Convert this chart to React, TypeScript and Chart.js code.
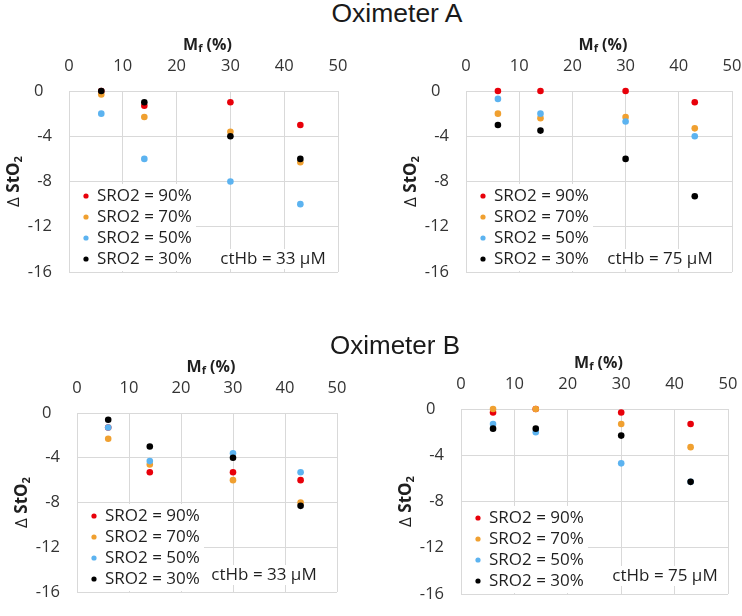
import React, { useEffect, useRef } from 'react';
import { Chart, registerables } from 'chart.js';

Chart.register(...registerables);

// ---------- data ----------
const mfPercent = [6, 14, 30, 43];
const seriesLabels = ['SRO2 = 90%', 'SRO2 = 70%', 'SRO2 = 50%', 'SRO2 = 30%'];
const seriesColors = ['#e8000a', '#f0a030', '#5cb3f0', '#000000'];
const xTickValues = [0, 10, 20, 30, 40, 50];
const yTickValues = [0, -4, -8, -12, -16];
const panelTitles = ['Oximeter A', 'Oximeter B'];
const ctHbLabels = ['ctHb = 33 μM', 'ctHb = 75 μM'];

// Oximeter A, ctHb = 33 µM
const oxA33_sro90 = [0, -1.3, -1, -3];
const oxA33_sro70 = [-0.3, -2.3, -3.6, -6.3];
const oxA33_sro50 = [-2, -6, -8, -10];
const oxA33_sro30 = [0, -1, -4, -6];
// Oximeter A, ctHb = 75 µM
const oxA75_sro90 = [0, 0, 0, -1];
const oxA75_sro70 = [-2, -2.4, -2.3, -3.3];
const oxA75_sro50 = [-0.7, -2, -2.7, -4];
const oxA75_sro30 = [-3, -3.5, -6, -9.3];
// Oximeter B, ctHb = 33 µM
const oxB33_sro90 = [-1.3, -5.3, -5.3, -6];
const oxB33_sro70 = [-2.3, -4.6, -6, -8];
const oxB33_sro50 = [-1.3, -4.3, -3.6, -5.3];
const oxB33_sro30 = [-0.6, -3, -4, -8.3];
// Oximeter B, ctHb = 75 µM
const oxB75_sro90 = [-0.3, 0, -0.3, -1.3];
const oxB75_sro70 = [0, 0, -1.3, -3.3];
const oxB75_sro50 = [-1.3, -2, -4.7, -6.3];
const oxB75_sro30 = [-1.7, -1.7, -2.3, -6.3];

// ---------- styling ----------
const GRID = '#d9d9d9';
const TEXT = '#1f1f1f';
const TICK = '#333333';
const FAMILY = "'Open Sans', 'DejaVu Sans', sans-serif";

type Panel = {
  box: [number, number, number, number];
  area: [number, number, number, number];
  series: number[][];
  note: string;
  noteDx: number;
  noteDy: number;
};

const panels: Panel[] = [
  { box: [0, 30, 371, 300], area: [69, 91, 338, 272], series: [oxA33_sro90, oxA33_sro70, oxA33_sro50, oxA33_sro30], note: ctHbLabels[0], noteDx: 65, noteDy: 13 },
  { box: [371, 30, 371, 300], area: [466, 91, 732, 272], series: [oxA75_sro90, oxA75_sro70, oxA75_sro50, oxA75_sro30], note: ctHbLabels[1], noteDx: 72, noteDy: 13 },
  { box: [0, 340, 371, 276], area: [77, 413, 337, 592], series: [oxB33_sro90, oxB33_sro70, oxB33_sro50, oxB33_sro30], note: ctHbLabels[0], noteDx: 73, noteDy: 17 },
  { box: [371, 340, 371, 276], area: [461, 409, 728, 594], series: [oxB75_sro90, oxB75_sro70, oxB75_sro50, oxB75_sro30], note: ctHbLabels[1], noteDx: 63, noteDy: 18 },
];

type Part = { t: string; f: string; dy?: number };
function drawParts(ctx: CanvasRenderingContext2D, parts: Part[], cx: number, cy: number) {
  let total = 0;
  for (const p of parts) { ctx.font = p.f; total += ctx.measureText(p.t).width; }
  let x = cx - total / 2;
  ctx.textAlign = 'left';
  ctx.textBaseline = 'middle';
  for (const p of parts) {
    ctx.font = p.f;
    ctx.fillText(p.t, x, cy + (p.dy || 0));
    x += ctx.measureText(p.t).width;
  }
}

function makeDecor(p: Panel) {
  return {
    id: 'decor',
    beforeDatasetsDraw(chart: any) {
      const { ctx, chartArea: a } = chart;
      ctx.save();
      // legend box (white, covers grid)
      ctx.fillStyle = '#ffffff';
      ctx.fillRect(a.left + 1, a.bottom - 88, 126, 87);
      ctx.font = `17px ${FAMILY}`;
      ctx.textBaseline = 'middle';
      seriesLabels.forEach((lab, i) => {
        const y = a.bottom - 13 - (3 - i) * 21;
        ctx.fillStyle = seriesColors[i];
        ctx.beginPath();
        ctx.arc(a.left + 17, y, 2.6, 0, Math.PI * 2);
        ctx.fill();
        ctx.fillStyle = TEXT;
        ctx.textAlign = 'left';
        ctx.fillText(lab, a.left + 28, y);
      });
      // ctHb annotation
      const w = ctx.measureText(p.note).width;
      const cx = a.right - p.noteDx;
      const cy = a.bottom - p.noteDy;
      ctx.fillStyle = '#ffffff';
      ctx.fillRect(cx - w / 2 - 3, cy - 10, w + 6, 20);
      ctx.fillStyle = TEXT;
      ctx.textAlign = 'center';
      ctx.fillText(p.note, cx, cy);
      ctx.restore();
    },
    afterDraw(chart: any) {
      const { ctx, chartArea: a } = chart;
      ctx.save();
      ctx.fillStyle = TEXT;
      // x axis title: M_f (%)
      drawParts(ctx, [
        { t: 'M', f: `bold 16px ${FAMILY}` },
        { t: 'f', f: `bold 11px ${FAMILY}`, dy: 4 },
        { t: ' (%)', f: `bold 16px ${FAMILY}` },
      ], (a.left + a.right) / 2 + 4, a.top - 46);
      // y axis title: Δ StO2
      ctx.translate(a.left - 55, (a.top + a.bottom) / 2);
      ctx.rotate(-Math.PI / 2);
      drawParts(ctx, [
        { t: 'Δ ', f: `17px ${FAMILY}` },
        { t: 'StO', f: `bold 17px ${FAMILY}` },
        { t: '2', f: `bold 11px ${FAMILY}`, dy: 5 },
      ], 0, 0);
      ctx.restore();
    },
  };
}

function PanelChart({ p }: { p: Panel }) {
  const ref = useRef<HTMLCanvasElement>(null);
  const [bx, by, bw, bh] = p.box;
  useEffect(() => {
    const [l, t, r, b] = p.area;
    const yW = l - bx;
    const xH = t - by;
    const padR = bx + bw - r;
    const padB = by + bh - b;
    const chart = new Chart(ref.current as HTMLCanvasElement, {
      type: 'scatter',
      data: {
        datasets: seriesLabels.map((label, i) => ({
          label,
          data: mfPercent.map((x, j) => ({ x, y: p.series[i][j] })),
          backgroundColor: seriesColors[i],
          borderColor: seriesColors[i],
          pointRadius: 3.3,
          pointHoverRadius: 3.3,
          pointBorderWidth: 0,
          showLine: false,
          order: 3 - i,
          clip: false as any,
        })),
      },
      options: {
        animation: false,
        responsive: false,
        devicePixelRatio: 1,
        events: [],
        layout: { padding: { left: 0, top: 0, right: padR, bottom: padB } },
        plugins: { legend: { display: false }, tooltip: { enabled: false } },
        scales: {
          x: {
            type: 'linear',
            position: 'top',
            min: Math.min(...xTickValues),
            max: Math.max(...xTickValues),
            afterBuildTicks: (s: any) => { s.ticks = xTickValues.map((v) => ({ value: v })); },
            afterFit: (s: any) => { s.height = xH; s.paddingLeft = 0; s.paddingRight = 0; s.paddingTop = 0; s.paddingBottom = 0; },
            grid: { color: GRID, lineWidth: 1, drawTicks: false },
            border: { color: GRID, width: 1 },
            ticks: { padding: 15, color: TICK, font: { family: FAMILY, size: 16.5 } },
          },
          y: {
            type: 'linear',
            position: 'left',
            min: Math.min(...yTickValues),
            max: Math.max(...yTickValues),
            afterBuildTicks: (s: any) => { s.ticks = yTickValues.map((v) => ({ value: v })); },
            afterFit: (s: any) => { s.width = yW; s.paddingLeft = 0; s.paddingRight = 0; s.paddingTop = 0; s.paddingBottom = 0; },
            grid: { color: GRID, lineWidth: 1, drawTicks: false },
            border: { color: GRID, width: 1 },
            ticks: {
              padding: 17,
              color: TICK,
              font: { family: FAMILY, size: 16.5 },
              callback: (v: any) => (Number(v) === 0 ? '0  ' : String(v)),
            },
          },
        },
      } as any,
      plugins: [makeDecor(p)],
    });
    return () => chart.destroy();
  }, []);
  return (
    <canvas
      ref={ref}
      width={bw}
      height={bh}
      style={{ position: 'absolute', left: bx, top: by, width: bw, height: bh }}
    />
  );
}

export default function App() {
  return (
    <div style={{ position: 'absolute', left: 0, top: 0, width: 742, height: 616, background: '#ffffff', overflow: 'hidden' }}>
      {panels.map((p, i) => (
        <PanelChart key={i} p={p} />
      ))}
      <div style={{ position: 'absolute', left: 297, top: 0, width: 200, textAlign: 'center', font: "26.5px 'Liberation Sans', Arial, sans-serif", lineHeight: '27px', color: '#1a1a1a' }}>
        {panelTitles[0]}
      </div>
      <div style={{ position: 'absolute', left: 295, top: 332, width: 200, textAlign: 'center', font: "26px 'Liberation Sans', Arial, sans-serif", lineHeight: '27px', color: '#1a1a1a' }}>
        {panelTitles[1]}
      </div>
    </div>
  );
}
